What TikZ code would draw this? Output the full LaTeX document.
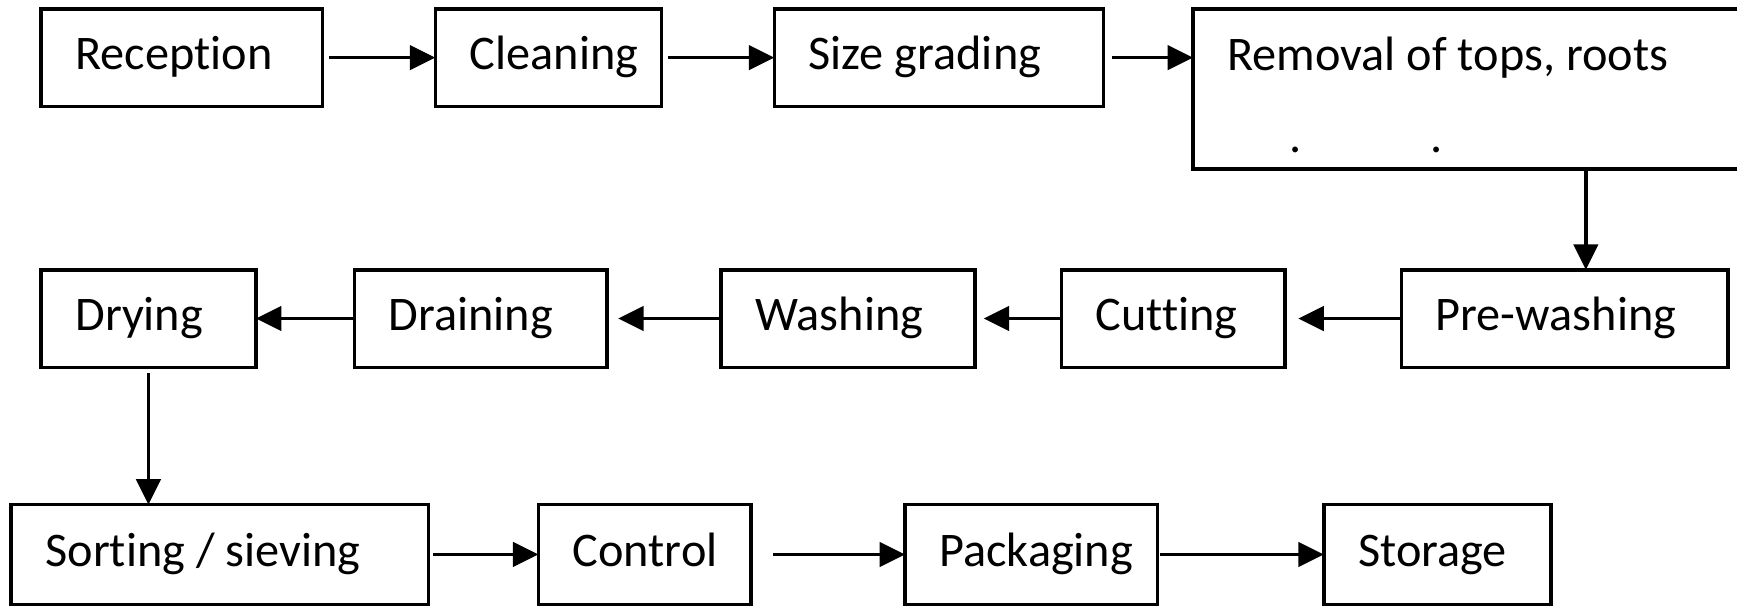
\documentclass[tikz,border=0pt]{standalone}
\usepackage{fontspec}
\setmainfont{Carlito}[Ligatures=NoCommon]
\usetikzlibrary{positioning,arrows.meta}

\begin{document}
\begin{tikzpicture}[
  box/.style={draw, line width=0.9pt, outer sep=0pt, align=left, inner xsep=0.31cm, inner ysep=0pt,
    font=\fontsize{12.4}{14.6}\selectfont, execute at begin node={\spaceskip=0pt\xspaceskip=0pt\relax}},
  stage/.style={box, minimum height=0.88cm, text height=0.32cm, text depth=0.1cm},
  arr/.style={line width=0.9pt, -{Triangle[length=0.23cm,width=0.22cm]}}
]
\useasboundingbox (0,0) rectangle (15.68,-5.47);
% top row
\node[stage, text width=1.92cm, anchor=north west](rec) at (0.37,-0.08) {Reception};
\node[stage, text width=1.42cm, right=1.02cm of rec](cln){Cleaning};
\node[stage, text width=2.35cm, right=1.02cm of cln](grd){Size grading};
\node[box, text width=5.9cm, minimum height=1.445cm, right=0.81cm of grd.north east, anchor=north west](rem){\rule{0pt}{0.405cm}Removal of tops, roots\\[0.225cm]\hspace*{0.56cm}.\hspace*{1.16cm}.};
% middle row, right to left
\node[stage, text width=2.33cm, below right=0.91cm and 1.88cm of rem.south west](pre){Pre-washing};
\node[stage, text width=1.40cm, left=1.05cm of pre](cut){Cutting};
\node[stage, text width=1.67cm, left=0.78cm of cut](wsh){Washing};
\node[stage, text width=1.66cm, left=1.03cm of wsh](drn){Draining};
\node[stage, text width=1.32cm, left=0.89cm of drn](dry){Drying};
% bottom row
\node[stage, text width=3.15cm, minimum height=0.9cm, below right=1.24cm and -0.27cm of dry.south west](srt){Sorting / sieving};
\node[stage, text width=1.30cm, minimum height=0.9cm, right=0.99cm of srt](ctl){Control};
\node[stage, text width=1.66cm, minimum height=0.9cm, right=1.39cm of ctl](pck){Packaging};
\node[stage, text width=1.43cm, minimum height=0.9cm, right=1.50cm of pck](sto){Storage};
\coordinate[xshift=0.19cm](drop) at (pre.north);

\draw[arr, shorten <=0.06cm] (rec) -- (cln);
\draw[arr, shorten <=0.06cm] (cln) -- (grd);
\draw[arr, shorten <=0.08cm] (grd.east) -- (grd.east -| rem.west);
\draw[arr] (rem.south -| drop) -- (drop);
\draw[arr, shorten >=0.12cm] (pre) -- (cut);
\draw[arr, shorten >=0.08cm] (cut) -- (wsh);
\draw[arr, shorten >=0.1cm] (wsh) -- (drn);
\draw[arr] (drn) -- (dry);
\draw[arr, shorten <=0.05cm] (dry.south) -- (dry.south |- srt.north);
\draw[arr, shorten <=0.04cm] (srt) -- (ctl);
\draw[arr, shorten <=0.2cm] (ctl) -- (pck);
\draw[arr, shorten <=0.02cm] (pck) -- (sto);
\end{tikzpicture}
\end{document}
